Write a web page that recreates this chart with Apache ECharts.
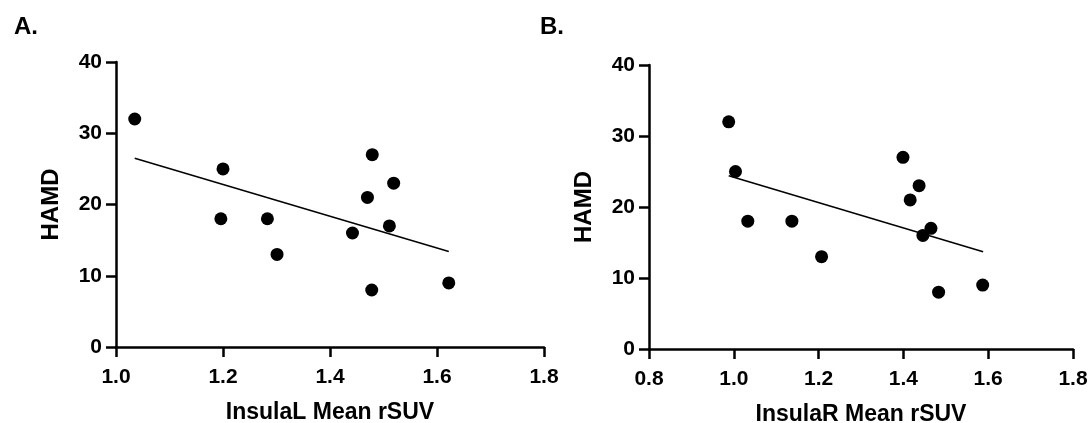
<!DOCTYPE html>
<html>
<head>
<meta charset="utf-8">
<script src="https://cdn.jsdelivr.net/npm/echarts@6/dist/echarts.min.js"></script>
<style>
  html, body { margin: 0; padding: 0; background: #fff; }
  #chart { width: 1092px; height: 423px; }
</style>
</head>
<body>
<div id="chart"></div>
<script>
// panel A: InsulaL
var insulaL = [1.035, 1.200, 1.196, 1.283, 1.301, 1.442, 1.470, 1.479, 1.478, 1.511, 1.519, 1.622];
var hamdL = [32, 25, 18, 18, 13, 16, 21, 27, 8, 17, 23, 9];
var fitL = [[1.035, 26.5], [1.622, 13.4]];

// panel B: InsulaR
var insulaR = [0.988, 1.004, 1.033, 1.137, 1.207, 1.399, 1.416, 1.437, 1.446, 1.465, 1.483, 1.587];
var hamdR = [32, 25, 18, 18, 13, 27, 21, 23, 16, 17, 8, 9];
var fitR = [[0.988, 24.4], [1.588, 13.7]];

var yTicks = [0, 10, 20, 30, 40];

function pairs(xs, ys) {
  return xs.map(function (x, i) { return [x, ys[i]]; });
}

var font = 'Liberation Sans, Arial, sans-serif';
var axisCommon = {
  axisLine: { lineStyle: { color: '#000', width: 2.5 } },
  axisTick: { show: true, length: 10, lineStyle: { color: '#000', width: 2.5 } },
  splitLine: { show: false },
  axisLabel: { color: '#000', fontFamily: font, fontWeight: 'bold', fontSize: 21 }
};

function xAxis(idx, min, name) {
  return Object.assign({}, axisCommon, {
    type: 'value', gridIndex: idx, min: min, max: 1.8, interval: 0.2,
    name: name, nameLocation: 'middle', nameGap: 54,
    nameTextStyle: { color: '#000', fontFamily: font, fontWeight: 'bold', fontSize: 23 },
    axisLabel: Object.assign({}, axisCommon.axisLabel, {
      margin: 20,
      formatter: function (v) { return v.toFixed(1); }
    })
  });
}

function yAxis(idx) {
  return Object.assign({}, axisCommon, {
    type: 'value', gridIndex: idx, min: yTicks[0], max: yTicks[yTicks.length - 1], interval: 10,
    name: 'HAMD', nameLocation: 'middle', nameGap: 53,
    nameTextStyle: { color: '#000', fontFamily: font, fontWeight: 'bold', fontSize: 24 },
    axisLabel: Object.assign({}, axisCommon.axisLabel, { margin: 14 })
  });
}

var chart = echarts.init(document.getElementById('chart'));
chart.setOption({
  backgroundColor: '#fff',
  animation: false,
  title: [
    { text: 'A.', left: 9, top: 10, textStyle: { fontFamily: font, fontWeight: 'bold', fontSize: 24, color: '#000' } },
    { text: 'B.', left: 535, top: 10, textStyle: { fontFamily: font, fontWeight: 'bold', fontSize: 24, color: '#000' } }
  ],
  grid: [
    { left: 116, width: 428, top: 62, height: 285, containLabel: false, outerBoundsMode: 'none' },
    { left: 649, width: 424, top: 65, height: 284, containLabel: false, outerBoundsMode: 'none' }
  ],
  xAxis: [xAxis(0, 1.0, 'InsulaL Mean rSUV'), xAxis(1, 0.8, 'InsulaR Mean rSUV')],
  yAxis: [yAxis(0), yAxis(1)],
  series: [
    { type: 'scatter', xAxisIndex: 0, yAxisIndex: 0, data: pairs(insulaL, hamdL), symbolSize: 13, itemStyle: { color: '#000', opacity: 1 } },
    { type: 'line', xAxisIndex: 0, yAxisIndex: 0, data: fitL, showSymbol: false, lineStyle: { color: '#000', width: 1.5 } },
    { type: 'scatter', xAxisIndex: 1, yAxisIndex: 1, data: pairs(insulaR, hamdR), symbolSize: 13, itemStyle: { color: '#000', opacity: 1 } },
    { type: 'line', xAxisIndex: 1, yAxisIndex: 1, data: fitR, showSymbol: false, lineStyle: { color: '#000', width: 1.5 } }
  ]
});
</script>
</body>
</html>
